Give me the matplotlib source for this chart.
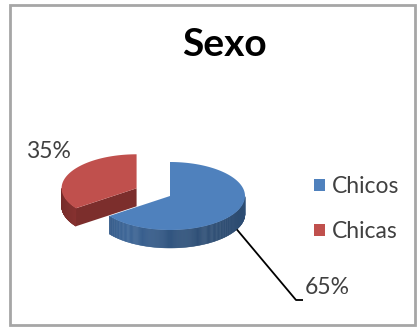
import numpy as np
import matplotlib
matplotlib.use("Agg")
import matplotlib.pyplot as plt
from matplotlib.patches import Polygon, Rectangle, Patch
import matplotlib.colors as mcolors

# ---- data ----
title = "Sexo"
categories = ["Chicos", "Chicas"]
values = [65, 35]
labels = ["65%", "35%"]
colors_top = ["#4F81BD", "#C0504D"]
colors_side = ["#3A6496", "#923634"]
explode = [0.0, 0.5]

plt.rcParams['font.family'] = ['Lato', 'DejaVu Sans']

W, H = 417, 327
fig = plt.figure(figsize=(W / 100, H / 100), dpi=100)
ax = fig.add_axes([0, 0, 1, 1])
ax.set_xlim(0, W)
ax.set_ylim(H, 0)
ax.axis('off')

# pie geometry (pixel-like coordinates)
cx, cy, rx, ry, depth = 170, 196, 75, 34, 18


def rim(ox, oy, t, dz=0.0):
    return ox + rx * np.cos(t), oy - ry * np.sin(t) + dz


total = float(sum(values))
a = 90.0
slices = []
for i, (v, e) in enumerate(zip(values, explode)):
    sweep = 360.0 * v / total
    t1, t2 = a - sweep, a
    mid = np.radians((t1 + t2) / 2)
    ox = cx + e * rx * np.cos(mid)
    oy = cy - e * ry * np.sin(mid)
    slices.append(dict(i=i, t1=t1, t2=t2, ox=ox, oy=oy, mid=mid))
    a = t1


def shade(c, f):
    r, g, b = mcolors.to_rgb(c)
    return (min(r * f, 1), min(g * f, 1), min(b * f, 1))


for s in sorted(slices, key=lambda d: d['oy']):
    i = s['i']
    ox, oy = s['ox'], s['oy']
    top = colors_top[i]
    side = colors_side[i]
    # cut faces
    for t, nrm in ((s['t1'], s['t1'] - 90), (s['t2'], s['t2'] + 90)):
        if np.sin(np.radians(nrm)) < -0.05:
            tr = np.radians(t)
            x1, y1 = rim(ox, oy, tr)
            poly = [(ox, oy), (x1, y1), (x1, y1 + depth), (ox, oy + depth)]
            ax.add_patch(Polygon(poly, closed=True, facecolor=shade(side, 0.85),
                                 edgecolor='none'))
    # outer wall
    ts = np.radians(np.linspace(s['t1'], s['t2'], 300))
    ts = ts[np.sin(ts) < 0]
    for k in range(len(ts) - 1):
        ta, tb = ts[k], ts[k + 1]
        xa, ya = rim(ox, oy, ta)
        xb, yb = rim(ox, oy, tb)
        f = 0.75 + 0.25 * (1 - abs(np.cos((ta + tb) / 2 + 0.6)))
        poly = [(xa, ya), (xb, yb), (xb, yb + depth), (xa, ya + depth)]
        ax.add_patch(Polygon(poly, closed=True, facecolor=shade(side, f),
                             edgecolor=shade(side, f), linewidth=0.3))
    # top face
    tt = np.radians(np.linspace(s['t1'], s['t2'], 200))
    pts = [(ox, oy)] + [rim(ox, oy, t) for t in tt]
    ax.add_patch(Polygon(pts, closed=True, facecolor=top, edgecolor='none'))

# data labels
blue = slices[0]
sx, sy = rim(blue['ox'], blue['oy'], blue['mid'], depth)
ax.plot([sx, 296, 303], [sy, 300, 300], color='black', linewidth=1.3,
        solid_capstyle='butt')
ax.text(305, 288, labels[0], fontsize=16.5, color='#404040', ha='left', va='center')
ax.text(48, 151, labels[1], fontsize=16.5, color='#404040', ha='center', va='center')

# title
ax.text(224, 45, title, fontsize=28, fontweight='bold', color='black',
        ha='center', va='center')

# legend
handles = [Patch(facecolor=c, edgecolor='none') for c in colors_top]
leg = ax.legend(handles, categories, loc='center left',
                bbox_to_anchor=(305 / W, 1 - 209 / H), frameon=False,
                fontsize=16.5, handlelength=0.47, handleheight=0.47,
                handletextpad=0.3, labelspacing=1.05, borderaxespad=0)
for t in leg.get_texts():
    t.set_color('#404040')

# border
ax.add_patch(Rectangle((10, 5), 405, 320, fill=False, edgecolor='#A6A6A6',
                       linewidth=2))

fig.savefig('out.png', dpi=100, facecolor='white')
